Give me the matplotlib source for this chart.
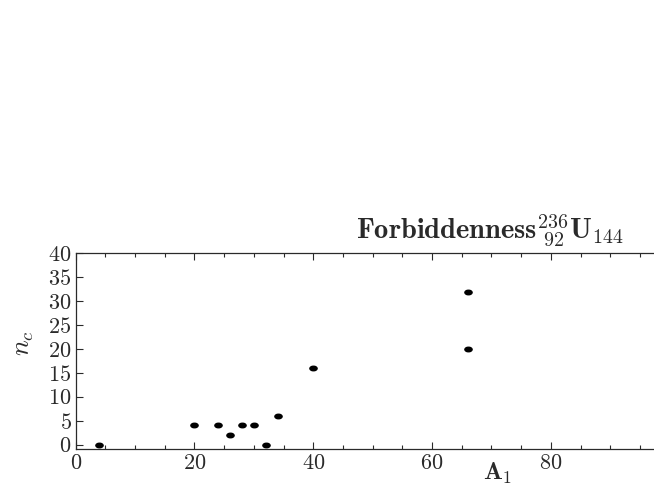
import matplotlib
matplotlib.use("Agg")
import matplotlib.pyplot as plt
from matplotlib.path import Path
from matplotlib.transforms import Affine2D
from matplotlib.ticker import MultipleLocator

# data
A1 = [4, 20, 24, 26, 28, 30, 32, 34, 40, 66, 66]
nc = [0, 4, 4, 2, 4, 4, 0, 6, 16, 32, 20]

plt.rcParams['font.family'] = 'serif'
plt.rcParams['font.serif'] = ['cmr10']
plt.rcParams['mathtext.fontset'] = 'cm'
plt.rcParams['axes.formatter.use_mathtext'] = True

ink = '#2a2a2a'

# flattened dot, like the reference
dot = Path.unit_circle().transformed(Affine2D().scale(1.6, 1.0))

fig = plt.figure(figsize=(6.54, 4.91), dpi=100)
ax = fig.add_axes([0.1157, 0.0849, 0.9083, 0.3992])

ax.plot(A1, nc, linestyle='none', marker=dot, markersize=5.2, color='black')

ax.set_xlim(0, 100)
ax.set_ylim(-1, 40)
ax.xaxis.set_major_locator(MultipleLocator(20))
ax.xaxis.set_minor_locator(MultipleLocator(5))
ax.yaxis.set_major_locator(MultipleLocator(5))

ax.tick_params(which='both', direction='in', top=True, right=True,
               colors=ink, labelcolor=ink, labelsize=16, width=0.8)
ax.tick_params(which='major', length=5, pad=3)
ax.tick_params(which='minor', length=3)
for s in ax.spines.values():
    s.set_color(ink)
    s.set_linewidth(0.9)

ax.set_xlabel(r'$\mathbf{A}_1$', fontsize=18, color=ink)
ax.xaxis.set_label_coords(0.711, -0.06)
ax.set_ylabel(r'$n_c$', fontsize=19, color=ink)
ax.yaxis.set_label_coords(-0.066, 0.54)

ax.text(0.697, 1.025, r'$\mathbf{Forbiddenness}{}^{236}_{\ 92}\mathbf{U}_{144}$',
        transform=ax.transAxes, ha='center', va='bottom', fontsize=20.5, color=ink)

fig.savefig('out.png', dpi=100)
